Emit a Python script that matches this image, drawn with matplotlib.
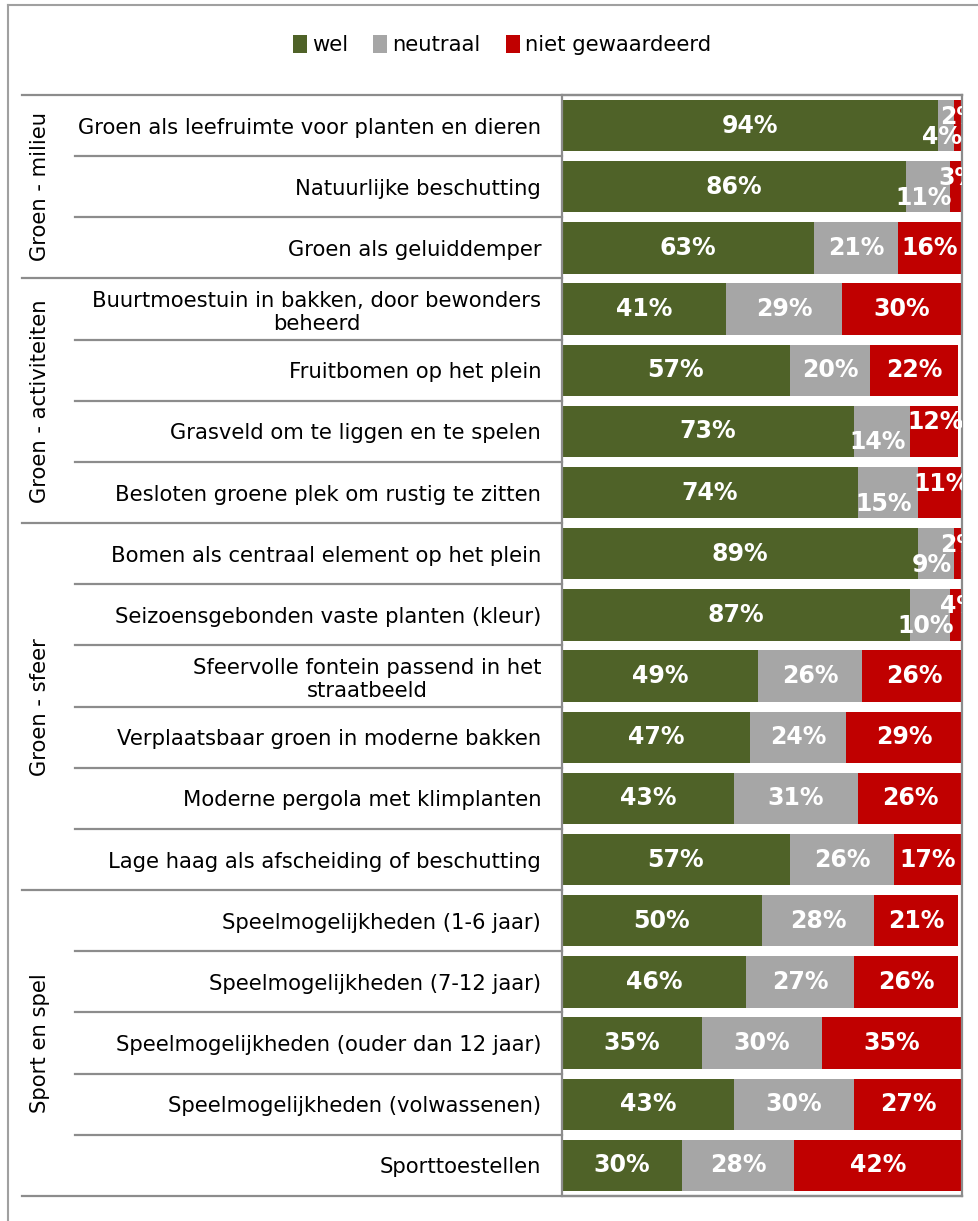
import matplotlib
matplotlib.use("Agg")
import matplotlib.pyplot as plt
from matplotlib.patches import Patch
from matplotlib.lines import Line2D
import numpy as np

categories = [
    "Groen als leefruimte voor planten en dieren",
    "Natuurlijke beschutting",
    "Groen als geluiddemper",
    "Buurtmoestuin in bakken, door bewonders\nbeheerd",
    "Fruitbomen op het plein",
    "Grasveld om te liggen en te spelen",
    "Besloten groene plek om rustig te zitten",
    "Bomen als centraal element op het plein",
    "Seizoensgebonden vaste planten (kleur)",
    "Sfeervolle fontein passend in het\nstraatbeeld",
    "Verplaatsbaar groen in moderne bakken",
    "Moderne pergola met klimplanten",
    "Lage haag als afscheiding of beschutting",
    "Speelmogelijkheden (1-6 jaar)",
    "Speelmogelijkheden (7-12 jaar)",
    "Speelmogelijkheden (ouder dan 12 jaar)",
    "Speelmogelijkheden (volwassenen)",
    "Sporttoestellen",
]
wel = [94, 86, 63, 41, 57, 73, 74, 89, 87, 49, 47, 43, 57, 50, 46, 35, 43, 30]
neutraal = [4, 11, 21, 29, 20, 14, 15, 9, 10, 26, 24, 31, 26, 28, 27, 30, 30, 28]
niet = [2, 3, 16, 30, 22, 12, 11, 2, 4, 26, 29, 26, 17, 21, 26, 35, 27, 42]
groups = ["Groen - milieu", "Groen - activiteiten", "Groen - sfeer", "Sport en spel"]
group_sizes = [3, 4, 6, 5]
series_names = ["wel", "neutraal", "niet gewaardeerd"]

colors = ["#4F6228", "#A6A6A6", "#C00000"]
line_col = "#8C8C8C"

W, H = 979, 1221
fig = plt.figure(figsize=(W / 100, H / 100), dpi=100)
ax_left, ax_right, ax_top, ax_bot = 562, 962, 95, 1196
ax = fig.add_axes([ax_left / W, 1 - ax_bot / H, (ax_right - ax_left) / W, (ax_bot - ax_top) / H])

n = len(categories)
y = np.arange(n)
series = [np.array(wel), np.array(neutraal), np.array(niet)]
left = np.zeros(n)
bar_containers = []
for vals, c, name in zip(series, colors, series_names):
    ax.barh(y, vals, left=left, height=0.84, color=c, label=name)
    bar_containers.append((vals, left.copy()))
    left = left + vals

ax.set_xlim(0, 100)
ax.set_ylim(n - 0.5, -0.5)
ax.set_xticks([])
ax.set_yticks(y)
ax.set_yticklabels(categories, fontsize=15.2)
ax.tick_params(axis="y", length=0, pad=15)
for t in ax.get_yticklabels():
    t.set_multialignment("center")
for s in ax.spines.values():
    s.set_color(line_col)
    s.set_linewidth(1.6)

# data labels
for k, (vals, lefts) in enumerate(bar_containers):
    for i in range(n):
        v = vals[i]
        dx, dy = 0, 0
        if neutraal[i] < 16 and niet[i] < 16:
            if k == 1:
                dx, dy = -4, -11
            elif k == 2:
                dx, dy = 2, 9
        ax.annotate(f"{v}%", xy=(lefts[i] + v / 2, i), xytext=(dx, dy),
                    textcoords="offset pixels", ha="center", va="center",
                    color="white", fontsize=17, fontweight="bold",
                    annotation_clip=False, clip_on=True)

# table lines (x in axes fraction, y in data)
trans = ax.get_yaxis_transform()
px = lambda xp: (xp - ax_left) / (ax_right - ax_left)
x_outer = px(22)
x_inner = px(75)
ax.plot([x_outer, 1], [-0.5, -0.5], color=line_col, lw=1.6, transform=trans, clip_on=False)
ax.plot([x_outer, 1], [n - 0.5, n - 0.5], color=line_col, lw=1.6, transform=trans, clip_on=False)
bounds = np.cumsum([0] + group_sizes)
for b in bounds[1:-1]:
    ax.plot([x_outer, 0], [b - 0.5, b - 0.5], color=line_col, lw=1.6, transform=trans, clip_on=False)
for i in range(1, n):
    if i not in bounds:
        ax.plot([x_inner, 0], [i - 0.5, i - 0.5], color=line_col, lw=1.6, transform=trans, clip_on=False)
# group labels
for g, s0, s1 in zip(groups, bounds[:-1], bounds[1:]):
    ax.text(px(40), (s0 + s1 - 1) / 2, g, rotation=90, ha="center", va="center",
            fontsize=15.2, transform=trans)

# outer frame
fig.add_artist(Line2D([8 / W, 1], [1 - 5 / H, 1 - 5 / H], color="#A0A0A0", lw=1.5, transform=fig.transFigure))
fig.add_artist(Line2D([8 / W, 8 / W], [1 - 5 / H, 0], color="#A0A0A0", lw=1.5, transform=fig.transFigure))

handles = [Patch(facecolor=c, edgecolor="none") for c in colors]
fig.legend(handles, series_names, loc="center", bbox_to_anchor=(502 / W, 1 - 45 / H),
           ncol=3, frameon=False, fontsize=15.2, handlelength=0.65, handleheight=0.9,
           handletextpad=0.25, columnspacing=1.2)

fig.savefig("out.png", dpi=100)
